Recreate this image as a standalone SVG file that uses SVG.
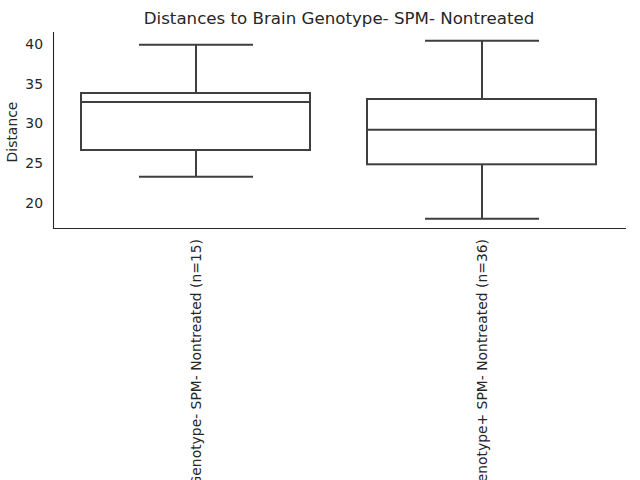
<svg xmlns="http://www.w3.org/2000/svg" width="640" height="480" viewBox="0 0 640 480">
<style>
text{font-family:"DejaVu Sans","Liberation Sans",sans-serif;fill:#262626}
.tick{font-size:13.9px;text-anchor:end}
.box{fill:none;stroke:#3f3f3f;stroke-width:2}
.ax{stroke:#262626;stroke-width:1.1;fill:none}
</style>
<rect width="640" height="480" fill="#fff"/>
<text x="339" y="24" font-size="16.67" text-anchor="middle">Distances to Brain Genotype- SPM- Nontreated</text>
<g id="axes">
<path class="ax" d="M53.5 32V228.5H626"/>
<text class="tick" x="43" y="48.7">40</text>
<text class="tick" x="43" y="88.6">35</text>
<text class="tick" x="43" y="128.3">30</text>
<text class="tick" x="43" y="168.2">25</text>
<text class="tick" x="43" y="208">20</text>
<text font-size="13.9" text-anchor="middle" transform="translate(17,132) rotate(-90)">Distance</text>
<text font-size="13.9" text-anchor="end" transform="translate(200.5,239) rotate(-90)">Genotype- SPM- Nontreated (n=15)</text>
<text font-size="13.9" text-anchor="end" transform="translate(486.5,239) rotate(-90)">Genotype+ SPM- Nontreated (n=36)</text>
</g>
<g id="box1">
<rect class="box" x="81" y="93" width="229" height="57"/>
<path class="box" d="M81 102H310M196 93V44.7M196 150V176.7M139 44.7H253M139 176.7H253"/>
</g>
<g id="box2">
<rect class="box" x="367" y="99" width="229" height="65.3"/>
<path class="box" d="M367 129.7H596M482 99V40.7M482 164.3V218.7M425 40.7H539M425 218.7H539"/>
</g>
</svg>
